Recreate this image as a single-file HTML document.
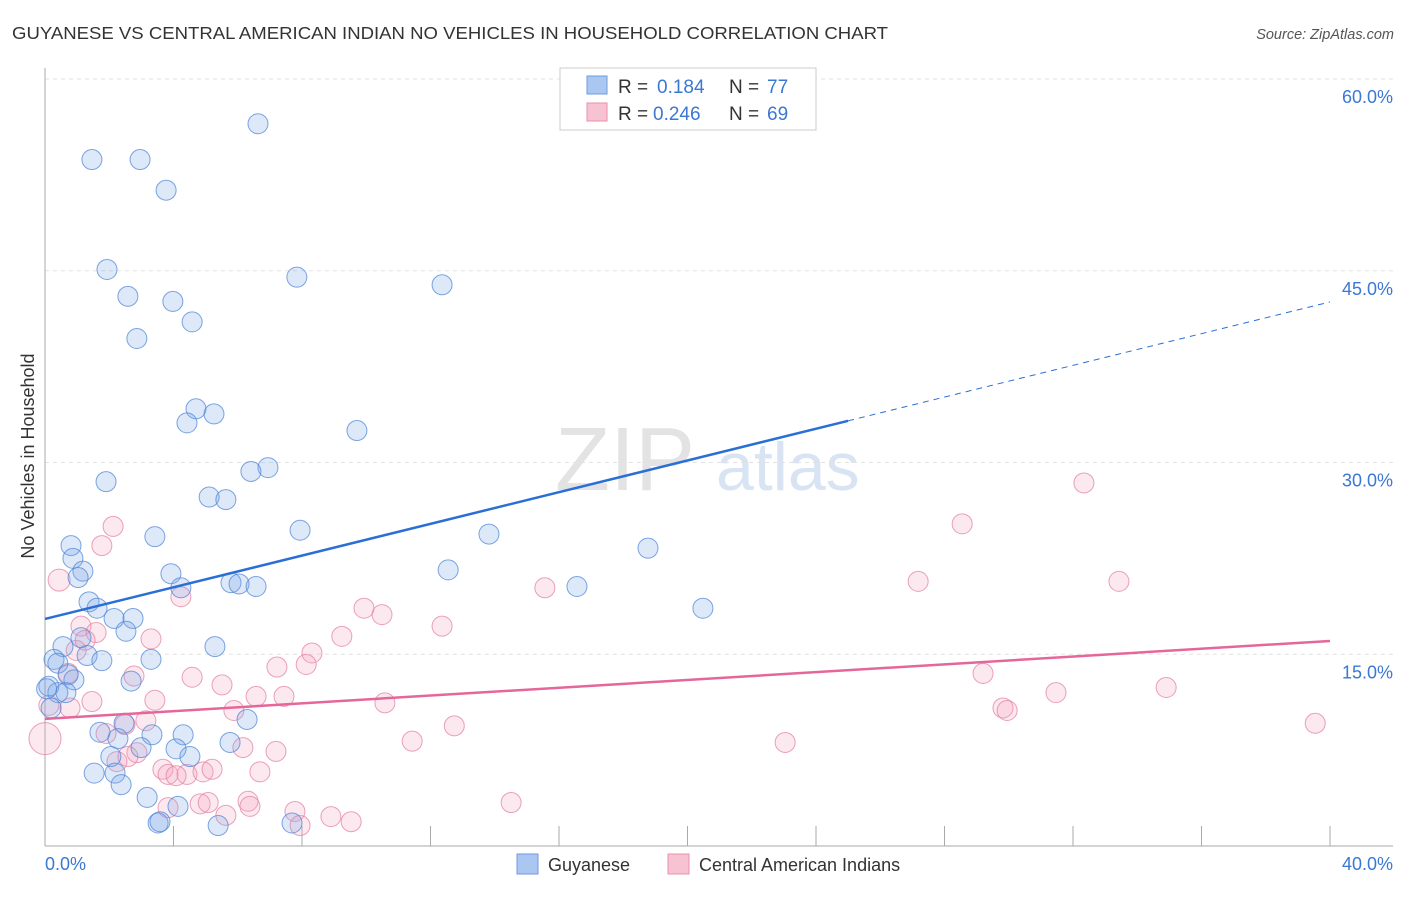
<!DOCTYPE html>
<html><head><meta charset="utf-8"><style>
body{margin:0;background:#fff;font-family:"Liberation Sans",sans-serif;}
svg text{font-family:"Liberation Sans",sans-serif;}
</style></head><body>
<svg id="chart" width="1406" height="892" viewBox="0 0 1406 892" xmlns="http://www.w3.org/2000/svg">
<text x="12" y="39" font-size="17.5" fill="#333" textLength="876" lengthAdjust="spacingAndGlyphs">GUYANESE VS CENTRAL AMERICAN INDIAN NO VEHICLES IN HOUSEHOLD CORRELATION CHART</text>
<text x="1394" y="39" font-size="14.5" fill="#555" font-style="italic" text-anchor="end">Source: ZipAtlas.com</text>
<text x="555" y="490" font-size="90" fill="#ddd" font-family="Liberation Serif" opacity="0.8">ZIP</text>
<text x="716" y="490" font-size="68" fill="#c8d8ef" opacity="0.7">atlas</text>
<text transform="translate(34,456) rotate(-90)" font-size="18" fill="#333" text-anchor="middle">No Vehicles in Household</text>
<g id="grid"></g><g id="axes"></g><g id="pts"></g><g id="lines"></g>
<g>
<rect x="560" y="68" width="256" height="62" fill="#fff" stroke="#ccc"/>
<rect x="587" y="76" width="20" height="18" fill="#a9c7f0" stroke="#6c9be0"/>
<text x="618" y="93" font-size="19" fill="#333">R = </text><text x="657" y="93" font-size="19" fill="#3a78d4">0.184</text>
<text x="729" y="93" font-size="19" fill="#333">N = </text><text x="767" y="93" font-size="19" fill="#3a78d4">77</text>
<rect x="587" y="103" width="20" height="18" fill="#f7c2d2" stroke="#e890aa"/>
<text x="618" y="120" font-size="19" fill="#333">R = </text><text x="653" y="120" font-size="19" fill="#3a78d4">0.246</text>
<text x="729" y="120" font-size="19" fill="#333">N = </text><text x="767" y="120" font-size="19" fill="#3a78d4">69</text>
</g>
<g>
<rect x="517" y="854" width="21" height="20" fill="#a9c7f0" stroke="#6c9be0"/>
<text x="548" y="871" font-size="18" fill="#333">Guyanese</text>
<rect x="668" y="854" width="21" height="20" fill="#f7c2d2" stroke="#e890aa"/>
<text x="699" y="871" font-size="18" fill="#333">Central American Indians</text>
</g>
</svg>
<script>
const blueX=[6.63,1.46,2.96,3.77,1.93,7.84,12.36,2.58,3.98,4.58,2.86,4.70,5.26,4.42,9.71,6.94,6.41,1.90,5.11,5.63,7.94,13.82,3.42,18.77,0.81,0.87,1.18,1.03,12.55,3.92,5.79,6.04,6.57,16.56,4.23,1.37,1.62,20.48,2.15,2.74,2.52,0.56,5.29,1.12,1.31,1.77,3.30,0.28,0.40,0.72,0.90,2.68,0.12,0.40,0.65,0.19,2.46,6.29,1.71,3.33,4.30,2.27,2.99,4.08,5.76,2.05,4.51,1.53,2.18,2.37,3.18,4.14,3.52,5.39,7.69,3.58,0.05];
const blueY=[56.5,53.7,53.7,51.3,45.1,44.5,43.9,43.0,42.6,41.0,39.7,34.2,33.8,33.1,32.5,29.6,29.3,28.5,27.3,27.1,24.7,24.4,24.2,23.3,23.5,22.5,21.5,21.0,21.6,21.3,20.6,20.5,20.3,20.3,20.2,19.1,18.6,18.6,17.8,17.8,16.8,15.6,15.6,16.3,14.9,14.5,14.6,14.6,14.3,13.4,13.0,12.9,12.5,12.0,12.0,10.8,9.6,9.9,8.9,8.7,8.7,8.4,7.7,7.6,8.1,7.0,7.0,5.7,5.7,4.8,3.8,3.1,1.8,1.6,1.8,1.9,12.3];
const pinkX=[2.12,1.77,0.44,4.23,15.56,27.18,28.55,32.34,33.43,9.93,10.49,12.36,1.12,1.59,3.30,9.24,8.31,0.97,1.25,8.13,7.22,0.72,2.77,4.58,5.51,29.2,31.47,34.90,6.57,7.44,3.42,1.46,10.58,5.88,29.82,29.95,0.12,0.78,39.54,3.14,2.49,12.74,0.0,11.43,23.04,6.16,7.19,1.90,2.86,2.24,2.58,3.67,3.83,4.42,4.08,4.92,5.20,6.69,3.83,4.83,5.08,6.32,6.38,14.51,5.63,7.78,7.94,8.90,9.53];
const pinkY=[25.0,23.5,20.8,19.5,20.2,20.7,25.2,28.4,20.7,18.6,18.1,17.2,17.2,16.7,16.2,16.4,15.1,15.3,16.1,14.2,14.0,13.5,13.3,13.2,12.6,13.5,12.0,12.4,11.7,11.7,11.4,11.3,11.2,10.6,10.8,10.6,11.0,10.8,9.6,9.8,9.5,9.4,8.4,8.2,8.1,7.7,7.4,8.8,7.3,6.6,7.0,6.0,5.6,5.6,5.5,5.8,6.0,5.8,3.0,3.3,3.4,3.5,3.1,3.4,2.4,2.7,1.6,2.3,1.9];
const yTicks=[15,30,45,60];
const xTicks=[0,4,8,12,16,20,24,28,32,36,40];
const blueTrend=[17.76,42.56];
const pinkTrend=[9.94,16.04];
const blueSolidEnd=25;
const NS="http://www.w3.org/2000/svg";
const X=v=>45+v/40*1285, Y=v=>846-v/60*767;
function mk(tag,attrs,parent){const e=document.createElementNS(NS,tag);for(const k in attrs)e.setAttribute(k,attrs[k]);document.getElementById(parent).appendChild(e);return e;}
yTicks.forEach(t=>{
 const l=mk('line',{x1:45,x2:1393,y1:Y(t),y2:Y(t),stroke:'#e2e2e2','stroke-dasharray':'4,4'},'grid');
 
 
 const tx=mk('text',{x:1393,y:Y(t)+24,'font-size':18,fill:'#3a78d4','text-anchor':'end'},'grid');
 tx.textContent=t.toFixed(1)+'%';
 
 
});
const ya=mk('line',{x1:45,x2:45,y1:68,y2:846,stroke:'#aaa'},'axes');


const xa=mk('line',{x1:45,x2:1393,y1:846,y2:846,stroke:'#aaa'},'axes');


xTicks.forEach(t=>{
 const l=mk('line',{x1:X(t),x2:X(t),y1:826,y2:846,stroke:'#aaa'},'axes');
 
 
});
[[0,'start',45],[40,'end',1393]].forEach(([v,a,px])=>{
 const tx=mk('text',{x:px,y:870,'font-size':18,fill:'#3a78d4','text-anchor':a},'axes');
 tx.textContent=v.toFixed(1)+'%';
 
 
});
function pts(xs,ys,fill,stroke,name){xs.forEach((x,i)=>{
 let r=10; if(x<0.5&&ys[i]>7&&ys[i]<9)r=16; if(x<0.5&&ys[i]>20)r=11;
 const c=mk('circle',{cx:X(x),cy:Y(ys[i]),r:r,fill:fill,stroke:stroke,'stroke-width':1},'pts');
 
 
});}
pts(pinkX,pinkY,'rgba(243,165,192,0.25)','rgba(228,130,162,0.75)','central-american-indian-point');
pts(blueX,blueY,'rgba(120,165,232,0.25)','rgba(80,135,215,0.75)','guyanese-point');
const by=x=>blueTrend[0]+(blueTrend[1]-blueTrend[0])*x/40;
const b1=mk('line',{x1:X(0),y1:Y(by(0)),x2:X(blueSolidEnd),y2:Y(by(blueSolidEnd)),stroke:'#2a6fd6','stroke-width':2.5},'lines');


const b2=mk('line',{x1:X(blueSolidEnd),y1:Y(by(blueSolidEnd)),x2:X(40),y2:Y(by(40)),stroke:'#2a6fd6','stroke-width':1,'stroke-dasharray':'6,5'},'lines');


const p1=mk('line',{x1:X(0),y1:Y(pinkTrend[0]),x2:X(40),y2:Y(pinkTrend[1]),stroke:'#e5679a','stroke-width':2.5},'lines');


</script>
</body></html>
